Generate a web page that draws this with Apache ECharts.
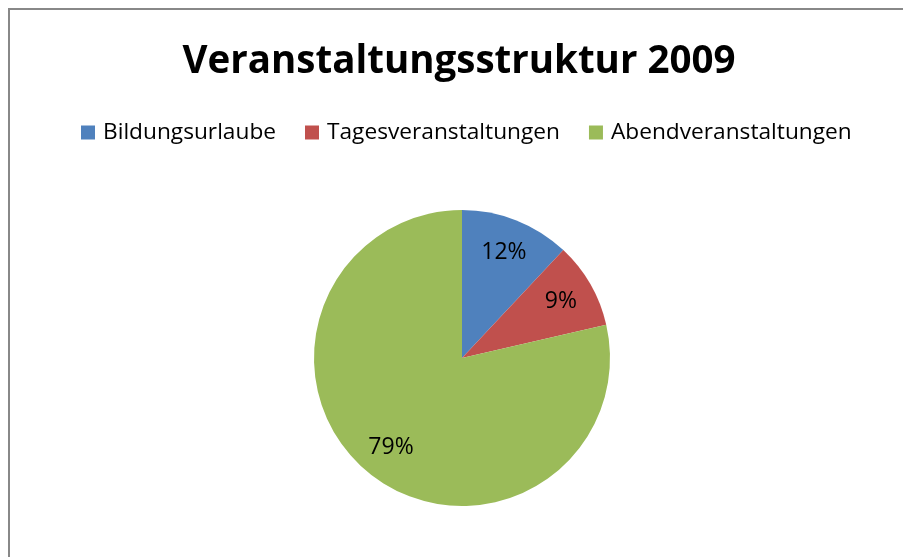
<!DOCTYPE html>
<html>
<head>
<meta charset="utf-8">
<script src="https://cdn.jsdelivr.net/npm/echarts@6/dist/echarts.min.js"></script>
<style>
  html, body { margin: 0; padding: 0; background: #fff; }
  #chart { width: 903px; height: 557px; }
</style>
</head>
<body>
<div id="chart"></div>
<script>
// Daten
const categories = ['Bildungsurlaube', 'Tagesveranstaltungen', 'Abendveranstaltungen'];
const shares = [12.0, 9.4, 78.6];
const colors = ['#4F81BD', '#C0504D', '#9BBB59'];

const pieData = categories.map((name, i) => ({ name: name, value: shares[i] }));

const chart = echarts.init(document.getElementById('chart'), null, { renderer: 'canvas' });

const option = {
  animation: false,
  color: colors,
  title: {
    text: 'Veranstaltungsstruktur 2009',
    left: 454,
    textAlign: 'center',
    top: 38,
    textStyle: {
      fontFamily: 'Open Sans',
      fontWeight: 'bold',
      fontSize: 38.5,
      color: '#000'
    }
  },
  legend: {
    data: categories,
    left: 76,
    top: 116,
    icon: 'rect',
    itemWidth: 14,
    itemHeight: 14,
    itemGap: 29,
    textStyle: {
      fontFamily: 'Open Sans',
      fontSize: 22.7,
      color: '#000',
      padding: [0, 0, 0, 3]
    }
  },
  graphic: [{
    // Rahmen des Diagrammbereichs (rechts/unten ausserhalb des Bildes)
    type: 'rect',
    shape: { x: 9, y: 9, width: 920, height: 580 },
    style: { fill: 'none', stroke: '#888888', lineWidth: 2 },
    silent: true
  }],
  series: [
    {
      // sichtbare Kreissegmente
      type: 'pie',
      center: [462, 358],
      radius: 148,
      startAngle: 90,
      clockwise: true,
      label: { show: false },
      labelLine: { show: false },
      itemStyle: { borderWidth: 0 },
      emphasis: { disabled: true },
      data: pieData
    },
    {
      // nur Beschriftungen, bei ca. 3/4 des Radius
      type: 'pie',
      center: [462, 358],
      radius: [74, 148],
      startAngle: 90,
      clockwise: true,
      silent: true,
      itemStyle: { color: 'rgba(0,0,0,0)' },
      emphasis: { disabled: true },
      label: {
        show: true,
        position: 'inside',
        fontFamily: 'Open Sans',
        fontSize: 23,
        color: '#000',
        formatter: (p) => Math.round(p.percent) + '%'
      },
      labelLine: { show: false },
      data: pieData
    }
  ]
};

chart.setOption(option);
</script>
</body>
</html>
